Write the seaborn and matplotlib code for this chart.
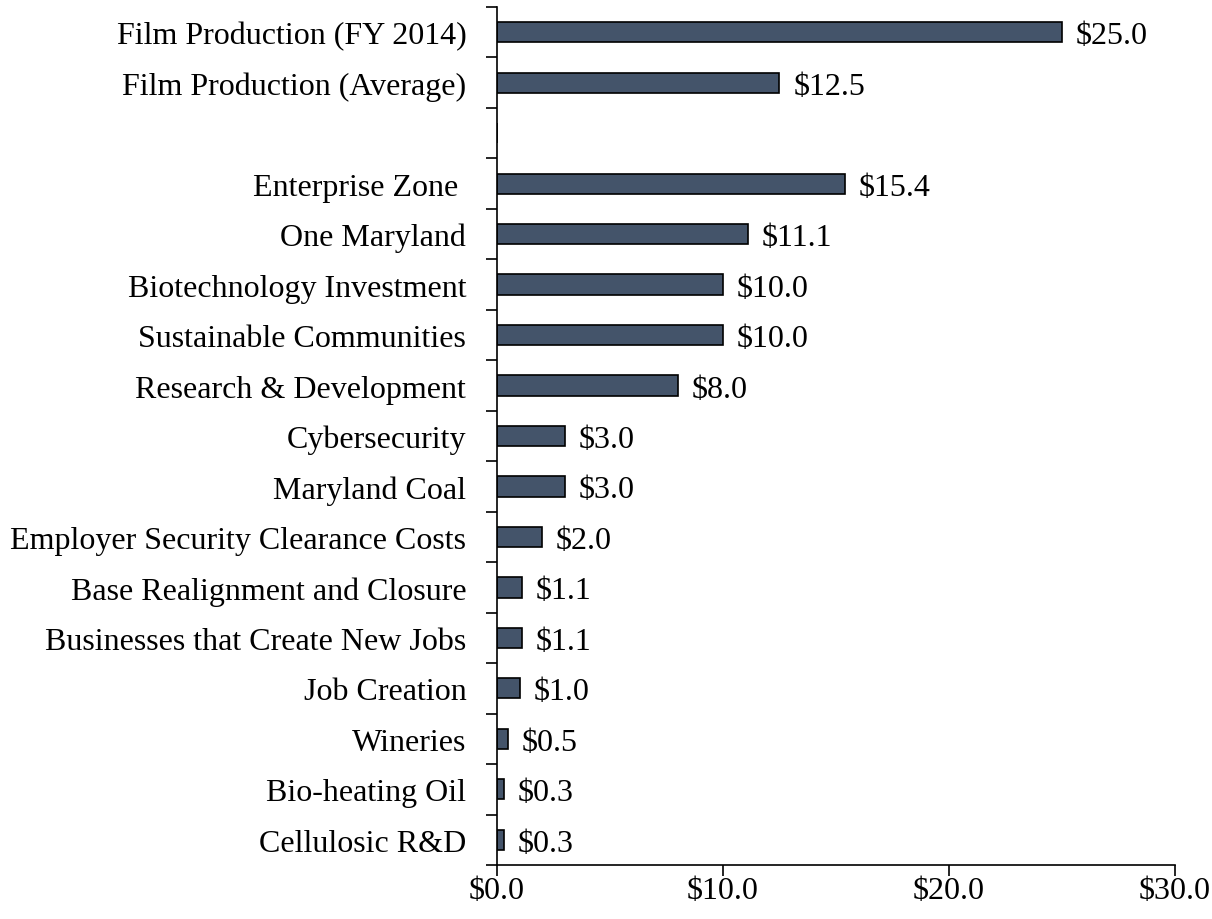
import numpy as np
import pandas as pd
import matplotlib.pyplot as plt
import seaborn as sns
from matplotlib.ticker import FixedLocator, FuncFormatter

# tax credit programs, millions of dollars (blank row separates the film rows)
programs = ["Film Production (FY 2014)", "Film Production (Average)", "",
            "Enterprise Zone ", "One Maryland", "Biotechnology Investment",
            "Sustainable Communities", "Research & Development", "Cybersecurity",
            "Maryland Coal", "Employer Security Clearance Costs",
            "Base Realignment and Closure", "Businesses that Create New Jobs",
            "Job Creation", "Wineries", "Bio-heating Oil", "Cellulosic R&D"]
amounts = [25.0, 12.5, 0.0, 15.4, 11.1, 10.0, 10.0, 8.0, 3.0, 3.0, 2.0,
           1.1, 1.1, 1.0, 0.5, 0.3, 0.3]
value_labels = ["$25.0", "$12.5", "", "$15.4", "$11.1", "$10.0", "$10.0", "$8.0",
                "$3.0", "$3.0", "$2.0", "$1.1", "$1.1", "$1.0", "$0.5", "$0.3", "$0.3"]
x_ticks = [0, 10, 20, 30]

df = pd.DataFrame({"program": programs, "amount": amounts})

sns.set_style("white")
plt.rcParams['font.family'] = ['Liberation Serif', 'DejaVu Serif']
plt.rcParams['text.color'] = 'black'
plt.rcParams['xtick.color'] = 'black'
plt.rcParams['ytick.color'] = 'black'

fig = plt.figure(figsize=(12.12, 9.2), dpi=100)
ax = fig.add_axes([0.41, 0.0587, 0.5595, 0.9326])

sns.barplot(data=df, x="amount", y="program", orient="h", color="#44546A",
            saturation=1, width=0.4, edgecolor="black", linewidth=1.2, ax=ax)

texts = ax.bar_label(ax.containers[0], labels=value_labels, padding=10, fontsize=23)
for t in texts:
    t.set_verticalalignment("center_baseline")

ax.set_xlim(0, 30)
ax.set_ylim(len(programs) - 0.5, -0.5)
ax.xaxis.set_major_locator(FixedLocator(x_ticks))
ax.xaxis.set_major_formatter(FuncFormatter(lambda v, p: f"${v:.1f}"))
ax.set_xlabel("")
ax.set_ylabel("")

ax.tick_params(axis="x", direction="out", length=8, width=1.2, labelsize=23, pad=0,
               bottom=True)
ax.tick_params(axis="y", which="major", length=0, labelsize=23, pad=22)
ax.yaxis.set_minor_locator(FixedLocator(np.arange(-0.5, len(programs), 1.0)))
ax.tick_params(axis="y", which="minor", direction="out", length=8, width=1.2, left=True)

for side in ["top", "right"]:
    ax.spines[side].set_visible(False)
for side in ["left", "bottom"]:
    ax.spines[side].set_color("black")
    ax.spines[side].set_linewidth(1.2)

fig.savefig("out.png", dpi=100)
